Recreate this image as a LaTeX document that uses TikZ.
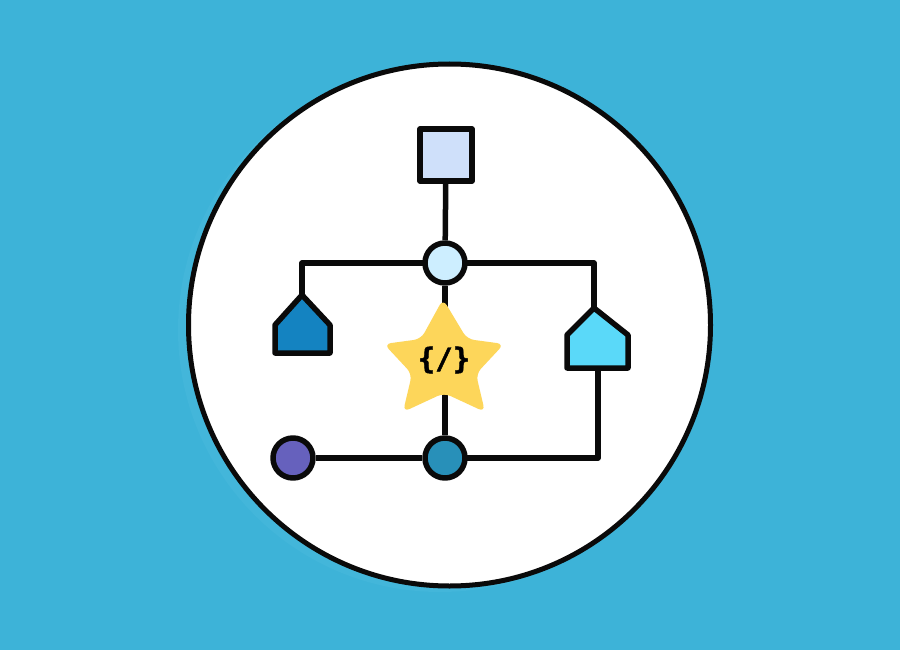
\documentclass[tikz,border=0pt]{standalone}
\usepackage{fontspec}
\newfontfamily\codefont[FakeBold=1.5]{DejaVu Sans Mono Bold}
\definecolor{bgblue}{HTML}{3DB3D8}
\definecolor{shadowblue}{HTML}{43B6DA}
\definecolor{sqfill}{HTML}{CFE0FA}
\definecolor{topfill}{HTML}{CDEEFF}
\definecolor{lhouse}{HTML}{1483C1}
\definecolor{rhouse}{HTML}{5AD9F9}
\definecolor{starfill}{HTML}{FDD65A}
\definecolor{botfill}{HTML}{2890B9}
\definecolor{purp}{HTML}{6661BD}
\definecolor{ink}{HTML}{0A0A0A}
\pgfdeclarelayer{back}
\pgfdeclarelayer{edges}
\pgfsetlayers{back,edges,main}
\tikzset{
  ink line/.style={draw=ink, line width=5.5pt, line join=round},
  dot/.style={circle, ink line, minimum size=40pt, inner sep=0pt},
  sq/.style={rectangle, ink line, minimum size=52pt, inner sep=0pt, fill=sqfill},
  house/.style={ink line},
  conn/.style={draw=ink, line width=5.5pt, line join=round}
}
\begin{document}
\begin{tikzpicture}[x=1pt,y=-1pt]
\useasboundingbox (0,0) rectangle (900,650);
\begin{pgfonlayer}{back}
  \fill[bgblue] (0,0) rectangle (900,650);
  \fill[shadowblue] (440,330) circle (262);
  \draw[fill=white, draw=ink, line width=5pt] (449.5,325) circle (261);
\end{pgfonlayer}

% nodes
\node[sq] (sqr) at (446,155) {};
\node[dot, fill=topfill] (top) at (445,263) {};
\node[dot, fill=botfill] (bot) at (445,458) {};
\node[dot, fill=purp] (pur) at (293,458) {};

% houses
\path[house, fill=lhouse] (275,353) -- (275,325) -- (302,295) -- (330,325) -- (330,353) -- cycle;
\coordinate (lapex) at (302,295);
\path[house, fill=rhouse] (567,368) -- (567,335) -- (594,308) -- (628,335) -- (628,368) -- cycle;
\coordinate (rapex) at (594,308);
\coordinate (rbase) at (598,368);

% star
\fill[starfill, rounded corners=7pt]
  (443,299) -- (467,339) -- (504,344) -- (476,374) -- (485,412)
  -- (444,393) -- (403,412) -- (412,374) -- (384,344) -- (421,339) -- cycle;
\node (code) at (444,360) {\codefont\fontsize{29}{29}\selectfont\{/\}};

\begin{pgfonlayer}{edges}
  \draw[conn] (sqr) -- (top);
  \draw[conn] (top) -- (bot);
  \draw[conn] (top.center) -| (lapex);
  \draw[conn] (top.center) -| (rapex);
  \draw[conn] (rbase) |- (bot.center);
  \draw[conn] (pur) -- (bot);
\end{pgfonlayer}
\end{tikzpicture}
\end{document}
